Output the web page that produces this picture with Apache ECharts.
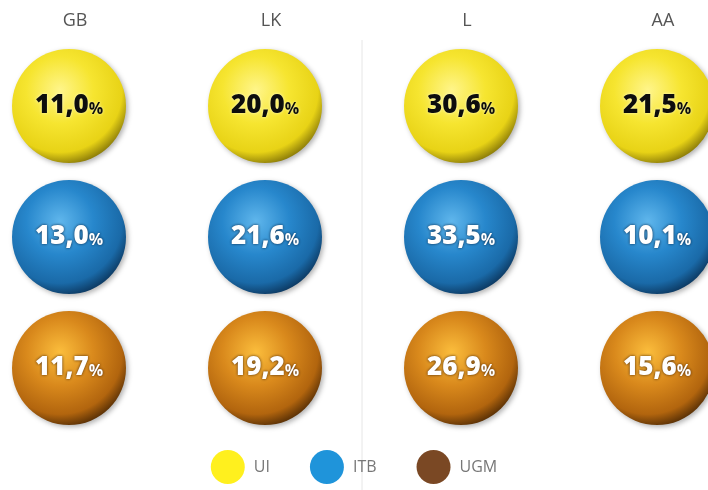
<!DOCTYPE html>
<html><head><meta charset="utf-8">
<script src="https://cdn.jsdelivr.net/npm/echarts@6/dist/echarts.min.js"></script>
<style>html,body{margin:0;padding:0;background:#fff}#c{width:708px;height:490px}</style>
</head><body><div id="c"></div>
<script>
const columns = ['GB', 'LK', 'L', 'AA'];
const groups = ['UI', 'ITB', 'UGM'];
const uiValues = [11.0, 20.0, 30.6, 21.5];
const itbValues = [13.0, 21.6, 33.5, 10.1];
const ugmValues = [11.7, 19.2, 26.9, 15.6];

const fills = {
  UI: {stops: ['#fff58a', '#f6e530', '#e8d316', '#6e6004'], legend: '#fff01e', text: '#0d0d0d', glow: 'rgba(255,255,210,0.9)'},
  ITB: {stops: ['#5fb6ec', '#2787cc', '#1a6aa8', '#082a4c'], legend: '#1f94da', text: '#ffffff', glow: 'rgba(0,15,40,0.85)'},
  UGM: {stops: ['#fbbd3c', '#d9891c', '#b2650e', '#3e2003'], legend: '#7a4824', text: '#ffffff', glow: 'rgba(50,20,0,0.9)'}
};
function fmt(v){ return v.toFixed(1).replace('.', ','); }

function makeSeries(name, vals){
  const f = fills[name];
  return {
    name: name, type: 'scatter', symbol: 'circle', symbolSize: 114,
    data: vals.map((v, i) => [columns[i], name, v]),
    itemStyle: {
      opacity: 1,
      color: {type: 'radial', x: 0.42, y: 0.36, r: 0.7, colorStops: [
        {offset: 0, color: f.stops[0]}, {offset: 0.42, color: f.stops[1]},
        {offset: 0.78, color: f.stops[2]}, {offset: 1, color: f.stops[3]}]},
      shadowBlur: 5, shadowColor: 'rgba(0,0,0,0.3)', shadowOffsetX: 2, shadowOffsetY: 2
    },
    label: {
      show: true, position: 'inside',
      formatter: p => '{n|' + fmt(p.value[2]) + '}{p|%}',
      rich: {
        n: {fontFamily: 'Open Sans', fontWeight: 800, fontSize: 26, color: f.text,
            textShadowColor: f.glow, textShadowBlur: 3},
        p: {fontFamily: 'Open Sans', fontWeight: 'bold', fontSize: 16, color: f.text,
            textShadowColor: f.glow, textShadowBlur: 3, padding: [7, 0, 0, 0]}
      }
    },
    emphasis: {disabled: true}
  };
}

const chart = echarts.init(document.getElementById('c'));
chart.setOption({
  animation: false,
  backgroundColor: '#fff',
  grid: {left: 69, width: 588, top: 106, height: 262},
  xAxis: {
    type: 'category', data: columns, position: 'top', boundaryGap: false,
    axisLine: {show: false}, axisTick: {show: false}, splitLine: {show: false},
    axisLabel: {margin: 76, fontFamily: 'Open Sans', fontSize: 18, color: '#555', padding: [0, 0, 0, 12]}
  },
  yAxis: {
    type: 'category', data: groups, inverse: true, boundaryGap: false, show: false
  },
  legend: {
    bottom: 1, left: 'center', itemGap: 40, itemWidth: 34, itemHeight: 34, icon: 'circle',
    textStyle: {fontFamily: 'Open Sans', fontSize: 16, color: '#777', padding: [0, 0, 0, 4]},
    data: groups.map(g => ({name: g, itemStyle: {color: fills[g].legend, opacity: 1, shadowBlur: 0, shadowOffsetX: 0, shadowOffsetY: 0}}))
  },
  graphic: [{type: 'line', shape: {x1: 362, y1: 40, x2: 362, y2: 490}, style: {stroke: '#e6e6e6', lineWidth: 1}, silent: true}],
  series: [makeSeries('UI', uiValues), makeSeries('ITB', itbValues), makeSeries('UGM', ugmValues)]
});
</script></body></html>
